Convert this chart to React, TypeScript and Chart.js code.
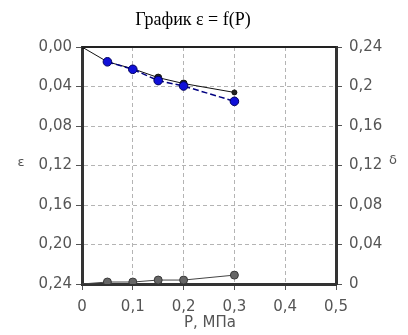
import React, { useEffect, useRef } from "react";
import { Chart, registerables } from "chart.js";

Chart.register(...registerables);

const TITLE = "График ε = f(P)";
const X_TITLE = "P, МПа";
const Y_LEFT_TITLE = "ε";
const Y_RIGHT_TITLE = "δ";

const P_TICKS = [0, 0.1, 0.2, 0.3, 0.4, 0.5];
const EPS_TICKS = [0, 0.04, 0.08, 0.12, 0.16, 0.2, 0.24];
const DELTA_TICKS = [0, 0.04, 0.08, 0.12, 0.16, 0.2, 0.24];

const P_BLACK = [0, 0.05, 0.1, 0.15, 0.2, 0.3];
const EPS_BLACK = [0, 0.015, 0.022, 0.031, 0.037, 0.046];

const P_BLUE = [0.05, 0.1, 0.15, 0.2, 0.3];
const EPS_BLUE = [0.015, 0.0226, 0.034, 0.0395, 0.055];

const P_DELTA = [0, 0.05, 0.1, 0.15, 0.2, 0.3];
const DELTA = [0, 0.002, 0.002, 0.004, 0.004, 0.009];

const fmtLeft = (v: number) => v.toFixed(2).replace(".", ",");
const fmtRight = (v: number) => String(+v.toFixed(2)).replace(".", ",");

const TICK_FONT = { family: "'DejaVu Sans'", size: 15 };
const TICK_COLOR = "#555";
const GRID_COLOR = "#b4b4b4";

const textPlugin = {
  id: "texts",
  afterDraw(chart: any) {
    const { ctx, chartArea } = chart;
    ctx.save();
    ctx.strokeStyle = "#222";
    ctx.lineWidth = 2;
    ctx.beginPath();
    ctx.moveTo(chartArea.left, chartArea.top);
    ctx.lineTo(chartArea.right, chartArea.top);
    ctx.stroke();

    ctx.fillStyle = "#000";
    ctx.textAlign = "center";
    ctx.textBaseline = "middle";
    ctx.font = "18px 'Liberation Serif'";
    ctx.fillText(TITLE, 193, 20);

    ctx.fillStyle = TICK_COLOR;
    ctx.font = "15px 'DejaVu Sans'";
    ctx.fillText(X_TITLE, 210, 323);

    ctx.font = "13px 'DejaVu Sans'";
    ctx.fillText(Y_LEFT_TITLE, 21, 163);
    ctx.fillText(Y_RIGHT_TITLE, 393, 161);
    ctx.restore();
  },
};

export default function App() {
  const ref = useRef<HTMLCanvasElement | null>(null);

  useEffect(() => {
    if (!ref.current) return;
    const chart = new Chart(ref.current, {
      type: "line",
      data: {
        datasets: [
          {
            label: "ε blue",
            data: P_BLUE.map((p, i) => ({ x: p, y: EPS_BLUE[i] })),
            yAxisID: "yL",
            borderColor: "#000080",
            borderWidth: 1.5,
            borderDash: [6, 3],
            pointBackgroundColor: "#1010d8",
            pointBorderColor: "#000060",
            pointBorderWidth: 1,
            pointRadius: 4.3,
            order: 0,
          },
          {
            label: "ε black",
            data: P_BLACK.map((p, i) => ({ x: p, y: EPS_BLACK[i] })),
            yAxisID: "yL",
            borderColor: "#111",
            borderWidth: 1,
            pointBackgroundColor: "#222",
            pointBorderColor: "#111",
            pointRadius: [2, 3, 3, 3.5, 3.5, 2.5],
            order: 1,
          },
          {
            label: "δ",
            data: P_DELTA.map((p, i) => ({ x: p, y: DELTA[i] })),
            yAxisID: "yR",
            borderColor: "#444",
            borderWidth: 1,
            pointBackgroundColor: "#666",
            pointBorderColor: "#3a3a3a",
            pointBorderWidth: 1,
            pointRadius: [0, 4, 4, 4, 4, 4],
            order: 2,
          },
        ],
      },
      options: {
        responsive: false,
        animation: false,
        layout: { padding: { top: 47, left: 0, right: 0, bottom: 0 } },
        plugins: {
          legend: { display: false },
          tooltip: { enabled: false },
          title: { display: false },
        },
        scales: {
          x: {
            type: "linear",
            min: 0,
            max: 0.5,
            afterBuildTicks: (s: any) => {
              s.ticks = P_TICKS.map((v) => ({ value: v }));
            },
            afterFit: (s: any) => {
              s.height = 51;
            },
            ticks: {
              font: TICK_FONT,
              color: TICK_COLOR,
              padding: 8,
              maxRotation: 0,
              callback: (v: any) => fmtRight(Number(v)),
            },
            grid: {
              color: GRID_COLOR,
              tickLength: 6,
              tickColor: "#555",
              tickBorderDash: [],
            },
            border: { display: true, color: "#333", width: 3, dash: [4, 3] },
          },
          yL: {
            type: "linear",
            position: "left",
            reverse: true,
            min: 0,
            max: 0.24,
            afterBuildTicks: (s: any) => {
              s.ticks = EPS_TICKS.map((v) => ({ value: v }));
            },
            afterFit: (s: any) => {
              s.width = 82;
            },
            ticks: {
              font: TICK_FONT,
              color: TICK_COLOR,
              padding: 4,
              callback: (v: any) => fmtLeft(Number(v)),
            },
            grid: {
              color: GRID_COLOR,
              tickLength: 6,
              tickColor: "#555",
              tickBorderDash: [],
            },
            border: { display: true, color: "#333", width: 3, dash: [4, 3] },
          },
          yR: {
            type: "linear",
            position: "right",
            min: 0,
            max: 0.24,
            afterBuildTicks: (s: any) => {
              s.ticks = DELTA_TICKS.map((v) => ({ value: v }));
            },
            afterFit: (s: any) => {
              s.width = 72;
            },
            ticks: {
              font: TICK_FONT,
              color: TICK_COLOR,
              padding: 7,
              callback: (v: any) => fmtRight(Number(v)),
            },
            grid: {
              drawOnChartArea: false,
              drawTicks: true,
              tickLength: 6,
              tickColor: "#555",
              tickBorderDash: [],
            },
            border: { display: true, color: "#333", width: 3 },
          },
        },
      },
      plugins: [textPlugin],
    });
    return () => chart.destroy();
  }, []);

  return (
    <div style={{ position: "fixed", left: 0, top: 0, width: 408, height: 335, background: "#fff" }}>
      <canvas ref={ref} width={408} height={335} />
    </div>
  );
}
